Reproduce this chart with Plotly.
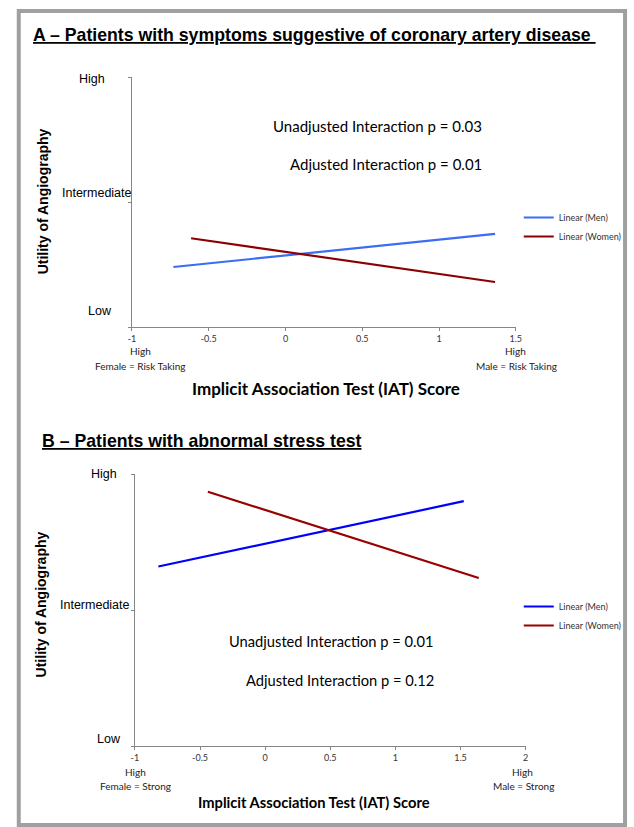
import plotly.graph_objects as go

W, H = 634, 827

# ---------------- data ----------------
# Panel A (symptoms suggestive of CAD); y: 0=Low, 1=Intermediate, 2=High
a_men_x = [-0.73, 1.365]
a_men_y = [0.48, 0.745]
a_women_x = [-0.615, 1.365]
a_women_y = [0.71, 0.36]
a_xticks = [-1, -0.5, 0, 0.5, 1, 1.5]
a_pvals = ["Unadjusted Interaction p = 0.03", "Adjusted Interaction p = 0.01"]

# Panel B (abnormal stress test)
b_men_x = [-0.82, 1.525]
b_men_y = [1.32, 1.80]
b_women_x = [-0.44, 1.64]
b_women_y = [1.87, 1.235]
b_xticks = [-1, -0.5, 0, 0.5, 1, 1.5, 2]
b_pvals = ["Unadjusted Interaction p = 0.01", "Adjusted Interaction p = 0.12"]

y_levels = [0, 1, 2]
y_labels = ["Low", "Intermediate", "High"]
series_names = ["Linear (Men)", "Linear (Women)"]

# ---------------- helpers ----------------
def px(x):
    return x / W

def py(y):
    return 1 - y / H

ARIAL = "Liberation Sans, Arial, sans-serif"
CAL = "Lato, Open Sans, sans-serif"
AXC = "#868686"

fig = go.Figure()

fig.add_trace(go.Scatter(x=a_men_x, y=a_men_y, mode="lines", name=series_names[0],
                         line=dict(color="#3A6CF4", width=2.2), xaxis="x", yaxis="y", legend="legend"))
fig.add_trace(go.Scatter(x=a_women_x, y=a_women_y, mode="lines", name=series_names[1],
                         line=dict(color="#8B0000", width=2.2), xaxis="x", yaxis="y", legend="legend"))
fig.add_trace(go.Scatter(x=b_men_x, y=b_men_y, mode="lines", name=series_names[0],
                         line=dict(color="#0000FF", width=2.2), xaxis="x2", yaxis="y2", legend="legend2"))
fig.add_trace(go.Scatter(x=b_women_x, y=b_women_y, mode="lines", name=series_names[1],
                         line=dict(color="#990000", width=2.2), xaxis="x2", yaxis="y2", legend="legend2"))

def xaxis_cfg(dom, rng, ticks):
    return dict(domain=dom, range=rng, tickvals=ticks, ticktext=[f"{t:g}" for t in ticks],
                showgrid=False, zeroline=False, showline=True, linecolor=AXC, linewidth=1,
                ticks="outside", ticklen=3, tickcolor=AXC,
                tickfont=dict(family=CAL, size=9, color="#333"), fixedrange=True)

def yaxis_cfg(dom, anchor):
    return dict(domain=dom, range=[0, 2], tickvals=y_levels, showticklabels=False,
                showgrid=False, zeroline=False, showline=True, linecolor=AXC, linewidth=1,
                ticks="outside", ticklen=3, tickcolor=AXC, anchor=anchor, fixedrange=True)

fig.update_layout(
    width=W, height=H, margin=dict(l=0, r=0, t=0, b=0),
    paper_bgcolor="white", plot_bgcolor="white",
    xaxis=xaxis_cfg([px(130), px(520)], [-1, 1.5], a_xticks) | dict(anchor="y"),
    yaxis=yaxis_cfg([py(327), py(77)], "x"),
    xaxis2=xaxis_cfg([px(133), px(530)], [-1, 2], b_xticks) | dict(anchor="y2"),
    yaxis2=yaxis_cfg([py(746), py(474)], "x2"),
    legend=dict(x=px(523), y=py(203), xanchor="left", yanchor="top",
                font=dict(family=CAL, size=9, color="#333"), bgcolor="rgba(0,0,0,0)",
                itemwidth=30, tracegroupgap=0),
    legend2=dict(x=px(523), y=py(592), xanchor="left", yanchor="top",
                 font=dict(family=CAL, size=9, color="#333"), bgcolor="rgba(0,0,0,0)",
                 itemwidth=30, tracegroupgap=0),
)

ann = []

def text(x, y, s, size, family, anchor="center", color="#000", yanchor="middle", angle=0):
    ann.append(dict(x=px(x), y=py(y), xref="paper", yref="paper", text=s, showarrow=False,
                    xanchor=anchor, yanchor=yanchor, textangle=angle,
                    font=dict(family=family, size=size, color=color)))

# Titles
text(27, 35, "<u><b>A – Patients with symptoms suggestive of coronary artery disease </b></u>", 17.7, ARIAL, anchor="left")
text(37, 441, "<u><b>B – Patients with abnormal stress test</b></u>", 17.7, ARIAL, anchor="left")

# Y axis titles
text(40, 201, "<b>Utility of Angiography</b>", 14, ARIAL, angle=-90)
text(38, 604, "<b>Utility of Angiography</b>", 14, ARIAL, angle=-90)

# Y level labels (panel A / B)
a_ylab_pos = {"High": (89, 79), "Intermediate": (94, 193), "Low": (98, 311)}
b_ylab_pos = {"High": (102, 474), "Intermediate": (92, 605), "Low": (107, 739)}
for lab in y_labels:
    xa, ya = a_ylab_pos[lab]
    text(xa, ya, lab, 12.5, ARIAL)
    xb, yb = b_ylab_pos[lab]
    text(xb, yb, lab, 12.5, ARIAL)

# p-value annotations
text(488, 126, a_pvals[0], 15, CAL, anchor="right")
text(488, 164, a_pvals[1], 15, CAL, anchor="right")
text(439, 641, b_pvals[0], 14.7, CAL, anchor="right")
text(439, 680, b_pvals[1], 14.7, CAL, anchor="right")

# Extreme labels
text(139, 351, "High", 10, CAL, color="#222")
text(139, 366, "Female = Risk Taking", 10, CAL, color="#222")
text(520, 351, "High", 10, CAL, color="#222")
text(521, 366, "Male = Risk Taking", 10, CAL, color="#222")
text(134, 772, "High", 10, CAL, color="#222")
text(134, 786, "Female = Strong", 10, CAL, color="#222")
text(527, 772, "High", 10, CAL, color="#222")
text(528, 786, "Male = Strong", 10, CAL, color="#222")

# X axis titles
text(327, 389, "<b>Implicit Association Test (IAT) Score</b>", 17, CAL)
text(315, 802, "<b>Implicit Association Test (IAT) Score</b>", 14.7, CAL)

fig.update_layout(annotations=ann)

# outer frame
fig.add_shape(type="rect", xref="paper", yref="paper",
              x0=px(15), x1=px(631), y0=py(825), y1=py(11),
              line=dict(color="#A0A0A0", width=4), fillcolor="rgba(0,0,0,0)")

fig.write_html("out.html", config={"displayModeBar": False},
               post_script="document.body.style.margin='0';document.body.style.overflow='hidden';")
